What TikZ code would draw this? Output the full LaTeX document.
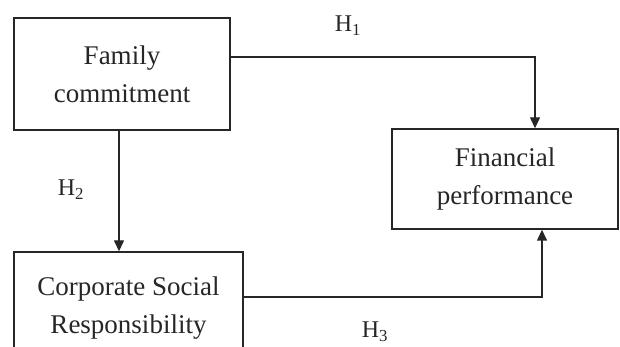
\documentclass[tikz,border=0pt]{standalone}
\usepackage{fontspec}
\setmainfont{Liberation Serif}
\usetikzlibrary{arrows.meta}

\begin{document}
\begin{tikzpicture}[x=1pt, y=1pt,
    box/.style={rectangle, draw=black!85, line width=1.4pt, inner sep=0pt, align=center,
      text=black!85, font=\fontsize{27}{38}\selectfont},
    arr/.style={draw=black!85, line width=1.4pt, -{Triangle[length=11pt, width=10pt]}},
    hyp/.style={text=black!85, font=\fontsize{24}{26}\selectfont}]
    \clip (0, 0) rectangle (620, 347);

    % Nodes
    \node[box, minimum width=216, minimum height=112] at (122, 273) (fam) {Family\\commitment};
    \node[box, minimum width=226, minimum height=100] at (505, 168) (fin) {Financial\\performance};
    \node[box, minimum width=229, minimum height=112] at (128.5, 39) (csr) {Corporate Social\\Responsibility};

    \node[hyp] at (348, 321) (h1) {H\textsubscript{1}};
    \node[hyp] at (71, 157) (h2) {H\textsubscript{2}};
    \node[hyp] at (375, 15) (h3) {H\textsubscript{3}};

    \draw[arr] ([yshift=17]fam.east) -| ([xshift=30]fin.north);
    \draw[arr] ([xshift=-3]fam.south) -- ([xshift=-3]fam.south |- csr.north);
    \draw[arr] ([yshift=11]csr.east) -| ([xshift=37]fin.south);

  \end{tikzpicture}
\end{document}
